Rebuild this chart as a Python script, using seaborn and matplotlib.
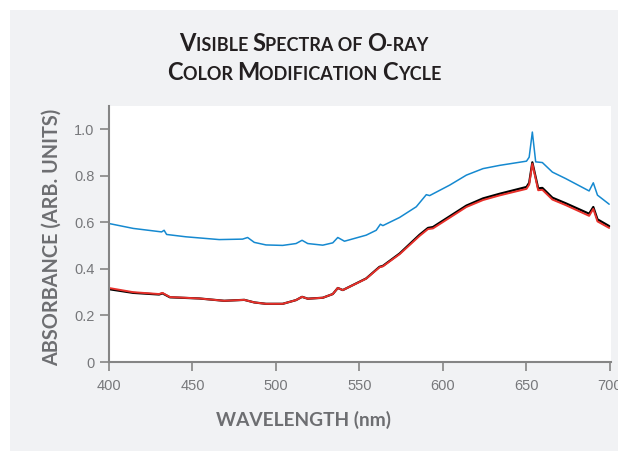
import numpy as np
import pandas as pd
import matplotlib
matplotlib.use("Agg")
import matplotlib.pyplot as plt
import seaborn as sns
from matplotlib.patches import Rectangle
from matplotlib.offsetbox import TextArea, HPacker, VPacker, AnchoredOffsetbox

# values
wl_blue = [400, 414.5, 431.5, 433, 434.5, 446, 466, 480, 483, 487, 494, 504, 512, 515.6,
           519, 528, 534, 537, 541, 554, 560, 562.5, 564, 574, 584, 590, 592, 604, 614,
           624, 634, 650, 651.6, 653.5, 655.5, 659.5, 665.5, 673.5, 687.5, 690, 692.5, 699.5]
abs_blue = [0.595, 0.574, 0.559, 0.566, 0.548, 0.538, 0.526, 0.528, 0.535, 0.514, 0.503, 0.501,
            0.509, 0.523, 0.509, 0.502, 0.512, 0.535, 0.519, 0.545, 0.566, 0.592, 0.586, 0.621,
            0.667, 0.719, 0.715, 0.760, 0.803, 0.831, 0.845, 0.863, 0.880, 0.988, 0.860, 0.857,
            0.816, 0.788, 0.735, 0.770, 0.717, 0.678]

wl_lower = [400, 414.5, 430, 432, 436.5, 454, 469, 481, 487, 494, 504, 512, 515.6, 519, 528,
            534, 537, 540, 554, 562, 564, 574, 586, 591, 594, 604, 614, 624, 634, 650, 651.6,
            653.5, 657, 659.5, 665.5, 673.5, 687.5, 690, 692.5, 699.5]
abs_black = [0.313, 0.297, 0.290, 0.295, 0.278, 0.273, 0.263, 0.267, 0.256, 0.250, 0.250, 0.266,
             0.280, 0.272, 0.276, 0.292, 0.318, 0.309, 0.359, 0.409, 0.413, 0.466, 0.547, 0.576,
             0.580, 0.626, 0.672, 0.703, 0.723, 0.752, 0.770, 0.858, 0.746, 0.748, 0.706, 0.682,
             0.637, 0.666, 0.613, 0.584]
abs_red = [0.318, 0.300, 0.292, 0.297, 0.279, 0.273, 0.263, 0.267, 0.256, 0.250, 0.250, 0.266,
           0.280, 0.272, 0.276, 0.292, 0.318, 0.309, 0.358, 0.407, 0.411, 0.463, 0.542, 0.571,
           0.574, 0.620, 0.666, 0.696, 0.716, 0.744, 0.762, 0.852, 0.738, 0.740, 0.698, 0.674,
           0.628, 0.658, 0.604, 0.576]

x_ticks = [400, 450, 500, 550, 600, 650, 700]
y_ticks = [0, 0.2, 0.4, 0.6, 0.8, 1.0]
y_ticklabels = ["0", "0.2", "0.4", "0.6", "0.8", "1.0"]

sns.set_theme(style="ticks")
plt.rcParams["font.family"] = ["Liberation Sans", "DejaVu Sans"]

gray_txt = "#6d6e71"
tick_txt = "#77787b"
spine_col = "#858585"

fig = plt.figure(figsize=(6.18, 4.51), dpi=100, facecolor="white")
fig.add_artist(Rectangle((10 / 618, 0), 1, 1 - 10 / 451, transform=fig.transFigure,
                         facecolor="#f1f2f4", edgecolor="none", zorder=0))

ax = fig.add_axes([109 / 618, 1 - 362 / 451, 502 / 618, 256 / 451])
ax.set_facecolor("white")

df_blue = pd.DataFrame({"wl": wl_blue, "a": abs_blue})
df_low = pd.DataFrame({"wl": wl_lower, "black": abs_black, "red": abs_red})

sns.lineplot(data=df_blue, x="wl", y="a", ax=ax, color="#1589d0", lw=1.1,
             sort=False, estimator=None)
sns.lineplot(data=df_low, x="wl", y="black", ax=ax, color="black", lw=1.6,
             sort=False, estimator=None)
sns.lineplot(data=df_low, x="wl", y="red", ax=ax, color="#e8302a", lw=1.4,
             sort=False, estimator=None)

ax.set_xlim(400, 700.6)
ax.set_ylim(0, 1.1)
ax.set_xticks(x_ticks)
ax.set_yticks(y_ticks)
ax.set_yticklabels(y_ticklabels)
ax.set_xlabel("")
ax.set_ylabel("")

for s in ["top", "right"]:
    ax.spines[s].set_visible(False)
for s in ["left", "bottom"]:
    ax.spines[s].set_color(spine_col)
    ax.spines[s].set_linewidth(1.5)
ax.tick_params(axis="x", length=6.5, width=1.2, color=spine_col, labelcolor=tick_txt,
               labelsize=10.5, pad=6)
ax.tick_params(axis="y", length=6.5, width=1.2, color=spine_col, labelcolor=tick_txt,
               labelsize=10.5, pad=4)

# axis labels
fig.text(52 / 618, 1 - 237 / 451, "ABSORBANCE (ARB. UNITS)", rotation=90,
         ha="center", va="center", fontsize=14.3, fontweight="bold",
         family=["Lato", "DejaVu Sans"], color=gray_txt)
fig.text(303 / 618, 1 - 420 / 451, "WAVELENGTH (nm)", ha="center", va="center",
         fontsize=13.8, fontweight="bold", family=["Lato", "DejaVu Sans"], color=gray_txt)


# small-caps title
def small_caps(parts, big=17, small=13):
    boxes = []
    for txt, is_big in parts:
        boxes.append(TextArea(txt, textprops=dict(fontsize=big if is_big else small,
                                                  fontweight="bold", color="#231f20",
                                                  family=["Lato", "DejaVu Sans"])))
    return HPacker(children=boxes, align="baseline", pad=0, sep=0)


line1 = small_caps([("V", 1), ("ISIBLE ", 0), ("S", 1), ("PECTRA OF ", 0), ("O", 1), ("-RAY", 0)])
line2 = small_caps([("C", 1), ("OLOR ", 0), ("M", 1), ("ODIFICATION ", 0), ("C", 1), ("YCLE", 0)])
title = VPacker(children=[line1, line2], align="center", pad=0, sep=5)
fig.add_artist(AnchoredOffsetbox(loc="center", child=title, frameon=False, pad=0,
                                 bbox_to_anchor=(304 / 618, 1 - 58 / 451),
                                 bbox_transform=fig.transFigure))

fig.savefig("out.png", dpi=100, facecolor="white")
